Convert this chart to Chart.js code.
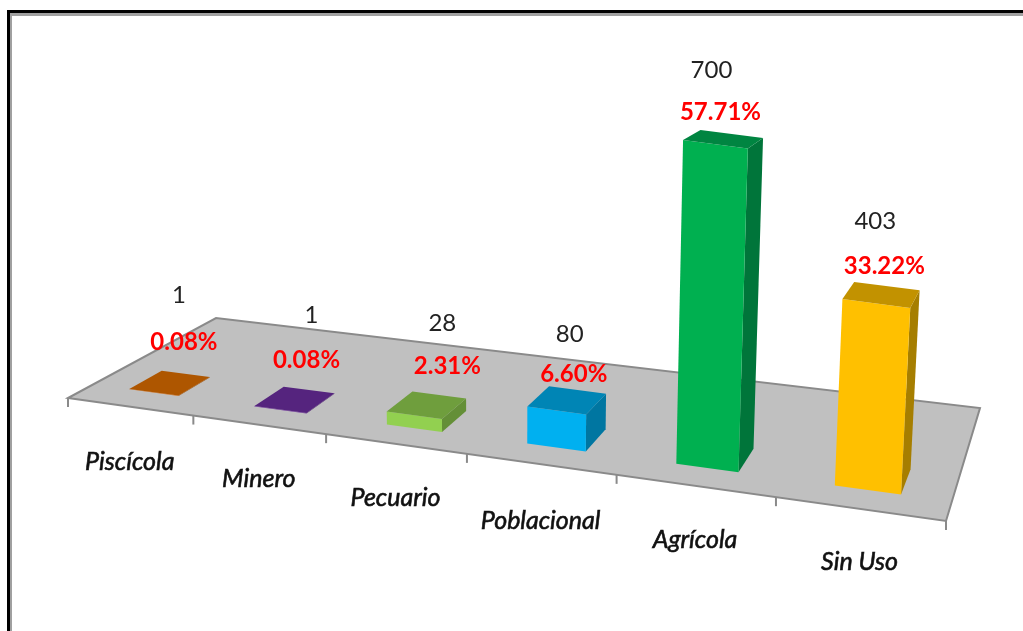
<!DOCTYPE html>
<html>
<head>
<meta charset="utf-8">
<title>Uso del agua</title>
<script src="https://cdn.jsdelivr.net/npm/chart.js@4/dist/chart.umd.min.js"></script>
<style>
    html, body { margin: 0; height: 100%; overflow: hidden; background: #fff; }
    /* Double rule along the top and left of the slide */
    .frame {
        position: absolute; left: 7px; top: 10px; width: 1100px; height: 800px;
        border-top: 3px solid #000; border-left: 3px solid #000;
    }
    .frame div { width: 100%; height: 100%; border-top: 3px solid #a0a0a0; border-left: 2px solid #a0a0a0; }
    canvas { position: absolute; left: 0; top: 0; }
</style>
</head>
<body>
<div class="frame"><div></div></div>
<canvas id="usoChart" width="1023" height="631"></canvas>
<script>
const categories = ['Piscícola', 'Minero', 'Pecuario', 'Poblacional', 'Agrícola', 'Sin Uso'];
const usoValues = [1, 1, 28, 80, 700, 403];
const usoShares = ['0.08%', '0.08%', '2.31%', '6.60%', '57.71%', '33.22%'];

// Face colours for each column: front, top, side
const frontColors = ['#E36C0A', '#7030A0', '#92D050', '#00B0F0', '#00B050', '#FFC000'];
const topColors = ['#AE5600', '#55247E', '#6F9E3D', '#0085B5', '#008541', '#C29200'];
const sideColors = ['#9A4B00', '#4A1F6E', '#648F37', '#0076A1', '#00753A', '#A67E00'];

// Label offsets from the top of each column, and drop below the floor edge
const shareOffsets = [[30, -50], [26, -49], [33, -49], [17, -36], [5, -32], [8, -37]];
const valueOffsets = [[-5, -47], [5, -45], [-5, -43], [-4, -40], [-9, -42], [-9, -45]];
const categoryDrops = [55, 54, 54, 57, 54, 53];

// Floor corners on the page: front left, front right, back right, back left
const floor = [[68, 398], [946, 521], [980, 408], [216, 318]];
const barFront = 0.15;   // column depth across the floor, 0 = front edge, 1 = back edge
const barBack = 0.36;
const backShrink = 0.96; // back edges of a column look a little shorter than the front
const leanCenter = 510;  // columns lean outward from this x as they get taller
const leanRate = 0.000126;

// Square to quad projection for the floor plane
function makeProjection(q) {
    const dx1 = q[1][0] - q[2][0], dx2 = q[3][0] - q[2][0];
    const dy1 = q[1][1] - q[2][1], dy2 = q[3][1] - q[2][1];
    const sx = q[0][0] - q[1][0] + q[2][0] - q[3][0];
    const sy = q[0][1] - q[1][1] + q[2][1] - q[3][1];
    const det = dx1 * dy2 - dx2 * dy1;
    const g = (sx * dy2 - dx2 * sy) / det;
    const h = (dx1 * sy - sx * dy1) / det;
    const a = q[1][0] - q[0][0] + g * q[1][0], b = q[3][0] - q[0][0] + h * q[3][0];
    const d = q[1][1] - q[0][1] + g * q[1][1], e = q[3][1] - q[0][1] + h * q[3][1];
    return (u, v) => {
        const w = 1 + g * u + h * v;
        return [(a * u + b * v + q[0][0]) / w, (d * u + e * v + q[0][1]) / w];
    };
}
const project = makeProjection(floor);

function raise(p, height) {
    return [p[0] + (p[0] - leanCenter) * height * leanRate, p[1] - height];
}

function fillPoly(ctx, points, color) {
    ctx.beginPath();
    points.forEach((p, i) => i ? ctx.lineTo(p[0], p[1]) : ctx.moveTo(p[0], p[1]));
    ctx.closePath();
    ctx.fillStyle = color;
    ctx.fill();
}

// Corners of one column, worked out from its bar element
function barCorners(chart, bar) {
    const area = chart.chartArea;
    const uLeft = (bar.x - bar.width / 2 - area.left) / area.width;
    const uRight = (bar.x + bar.width / 2 - area.left) / area.width;
    const height = bar.base - bar.y;
    const fl = project(uLeft, barFront), fr = project(uRight, barFront);
    const br = project(uRight, barBack), bl = project(uLeft, barBack);
    return {
        fl, fr, br, bl,
        tfl: raise(fl, height), tfr: raise(fr, height),
        tbr: raise(br, height * backShrink), tbl: raise(bl, height * backShrink)
    };
}

const floorPlugin = {
    id: 'floor',
    beforeDatasetsDraw(chart) {
        const ctx = chart.ctx;
        const n = categories.length;
        ctx.save();
        fillPoly(ctx, floor, '#C0C0C0');
        ctx.strokeStyle = '#8A8A8A';
        ctx.lineWidth = 2;
        ctx.beginPath();
        floor.forEach((p, i) => i ? ctx.lineTo(p[0], p[1]) : ctx.moveTo(p[0], p[1]));
        ctx.closePath();
        ctx.stroke();
        // Category ticks hang off the front edge
        for (let i = 0; i <= n; i++) {
            const p = project(i / n, 0);
            ctx.beginPath();
            ctx.moveTo(p[0], p[1]);
            ctx.lineTo(p[0], p[1] + 9);
            ctx.stroke();
        }
        ctx.restore();
    }
};

const columnsPlugin = {
    id: 'columns',
    // Returning false replaces the flat bars with the projected boxes
    beforeDatasetDraw(chart, args) {
        const ctx = chart.ctx;
        ctx.save();
        args.meta.data.forEach((bar, i) => {
            const c = barCorners(chart, bar);
            fillPoly(ctx, [c.fr, c.br, c.tbr, c.tfr], sideColors[i]);
            fillPoly(ctx, [c.fl, c.fr, c.tfr, c.tfl], frontColors[i]);
            fillPoly(ctx, [c.tfl, c.tfr, c.tbr, c.tbl], topColors[i]);
        });
        ctx.restore();
        return false;
    },
    afterDatasetsDraw(chart) {
        const ctx = chart.ctx;
        const meta = chart.getDatasetMeta(0);
        ctx.save();
        ctx.textAlign = 'center';
        ctx.textBaseline = 'middle';
        meta.data.forEach((bar, i) => {
            const c = barCorners(chart, bar);
            const topX = (c.tfl[0] + c.tfr[0]) / 2;
            const topY = (c.tfl[1] + c.tfr[1]) / 2;

            ctx.font = 'bold 24px Lato';
            ctx.fillStyle = '#FF0000';
            ctx.fillText(usoShares[i], topX + shareOffsets[i][0], topY + shareOffsets[i][1]);

            ctx.font = '24px Lato';
            ctx.fillStyle = '#222222';
            ctx.fillText(String(usoValues[i]), topX + shareOffsets[i][0] + valueOffsets[i][0],
                topY + shareOffsets[i][1] + valueOffsets[i][1]);

            // Regular italic with a thin outline gives the medium weight of the axis names
            const edge = project((i + 0.5) / categories.length, 0);
            ctx.font = 'italic 25px Lato';
            ctx.fillStyle = '#111111';
            ctx.strokeStyle = '#111111';
            ctx.lineWidth = 0.6;
            ctx.fillText(categories[i], edge[0], edge[1] + categoryDrops[i]);
            ctx.strokeText(categories[i], edge[0], edge[1] + categoryDrops[i]);
        });
        ctx.restore();
    }
};

new Chart(document.getElementById('usoChart').getContext('2d'), {
    type: 'bar',
    data: {
        labels: categories,
        datasets: [{
            data: usoValues,
            backgroundColor: frontColors,
            barPercentage: 0.4,
            categoryPercentage: 1
        }]
    },
    options: {
        responsive: false,
        animation: false,
        layout: { padding: { left: 68, right: 77, top: 130, bottom: 131 } },
        plugins: { legend: { display: false }, tooltip: { enabled: false } },
        scales: {
            x: { display: false },
            y: { display: false, min: 0, max: 800 }
        }
    },
    plugins: [floorPlugin, columnsPlugin]
});
</script>
</body>
</html>
